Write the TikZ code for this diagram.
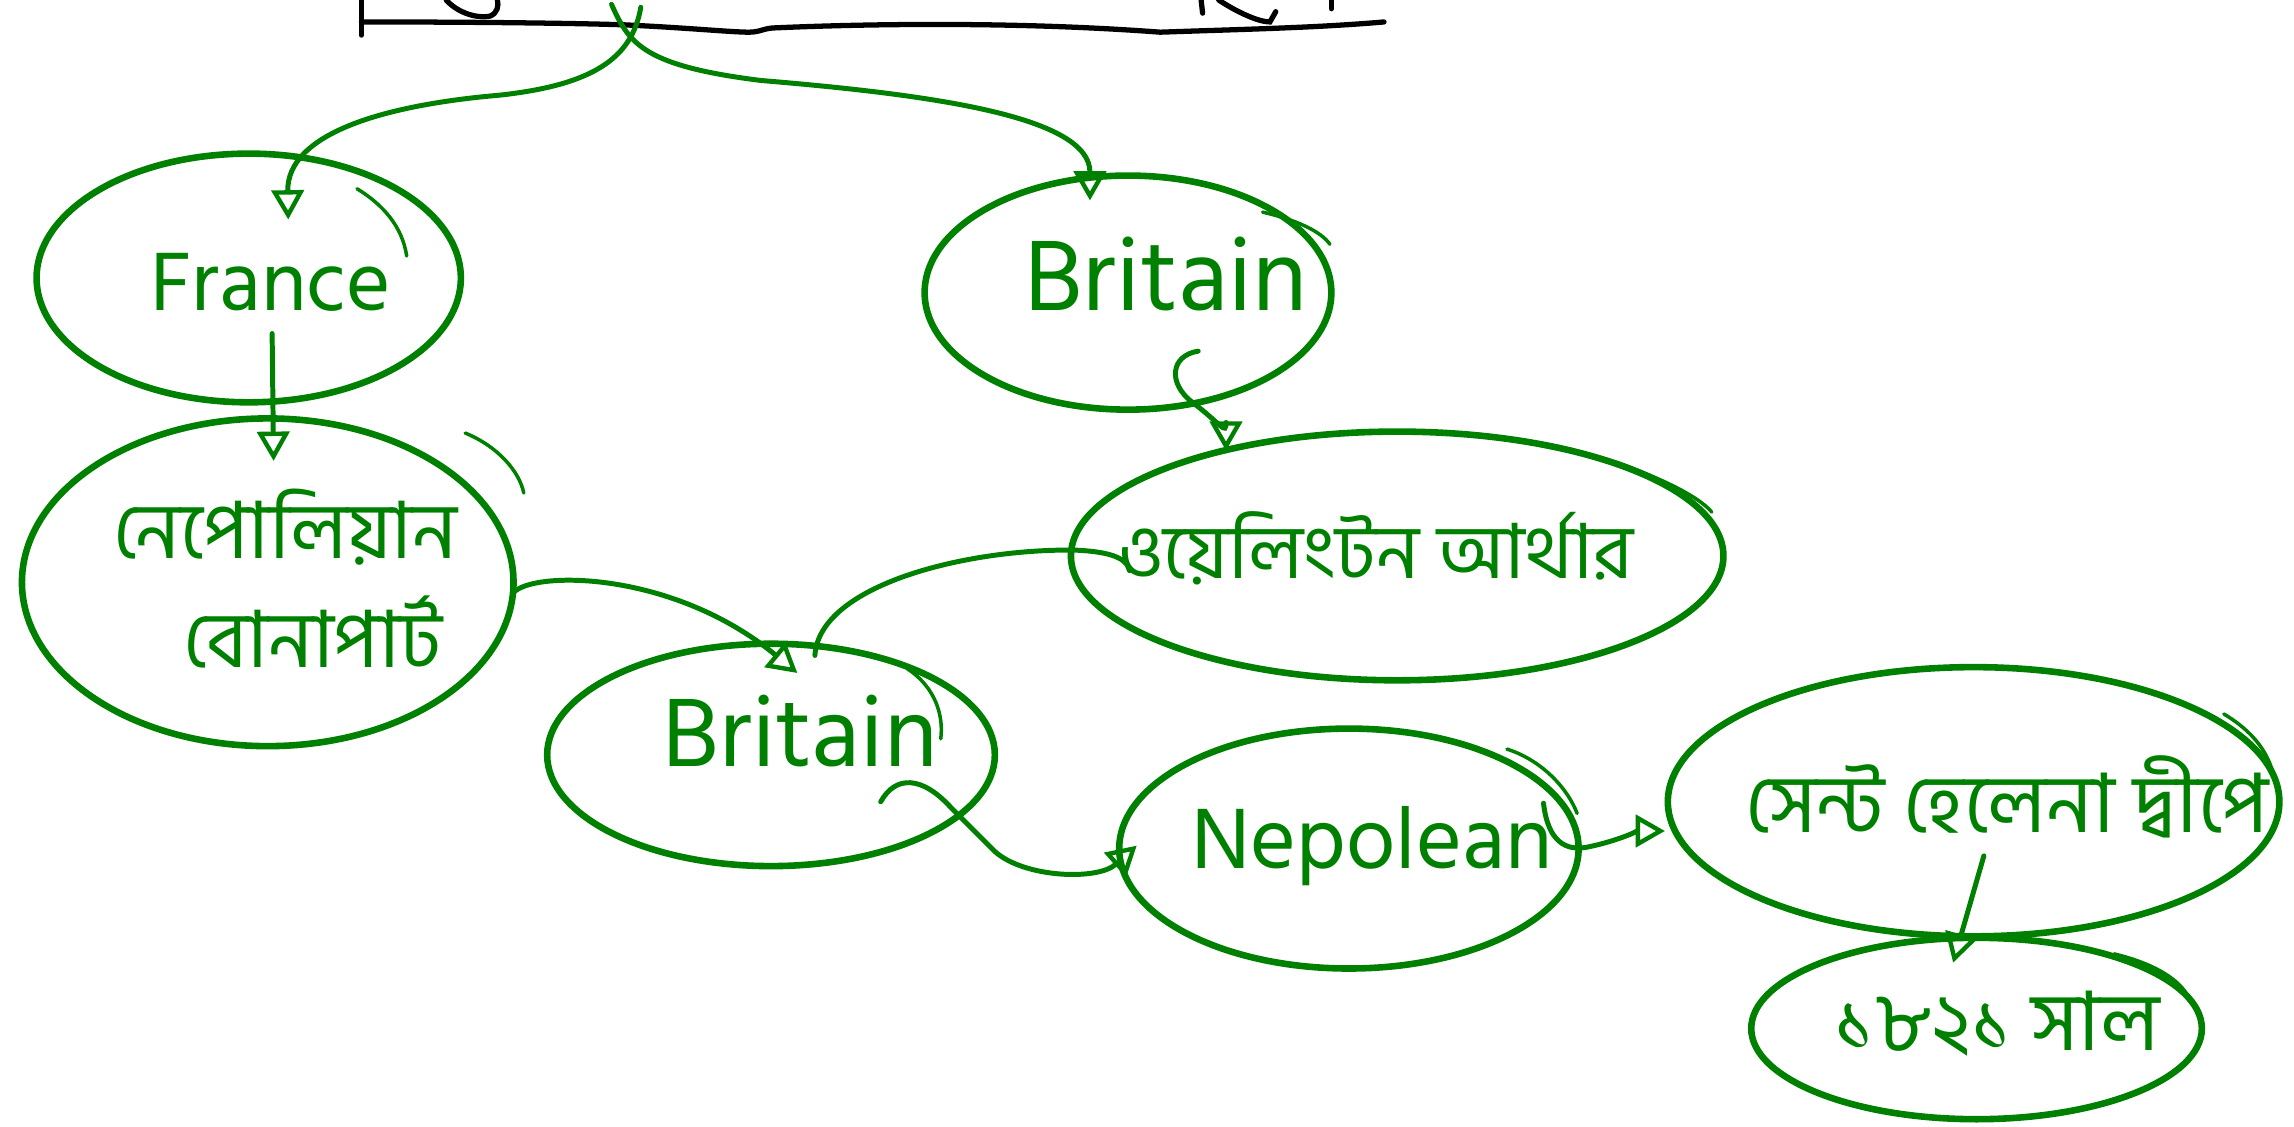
\documentclass[tikz,border=0pt]{standalone}
\usepackage{fontspec}
\setmainfont{Hind Siliguri}[Script=Bengali]
\usetikzlibrary{shapes.geometric,arrows.meta,calc}
\definecolor{pen}{RGB}{0,128,0}
\begin{document}
\begin{tikzpicture}[x=1pt,y=-1pt,
  ell/.style={draw=pen,line width=4.5pt,ellipse,inner sep=0pt,outer sep=0pt},
  lbl/.style={text=pen,inner sep=0pt,font=\fontsize{60}{68}\selectfont},
  bnl/.style={text=pen,inner sep=0pt,font=\fontsize{54}{62}\selectfont},
  conn/.style={draw=pen,line width=3.4pt,line cap=round},
  arr/.style={conn,-{Triangle[open,length=20pt,width=22pt,line width=3pt]}},
  tail/.style={draw=pen,line width=2.4pt,line cap=round},
  ink/.style={draw=black,line width=3.6pt,line cap=round}]
\useasboundingbox (0,0) rectangle (1568,770);

% top black line with clipped writing
\draw[ink] (247,0) -- (247,24);
\draw[ink] (247,15) .. controls (330,15) and (400,16) .. (427,17)
  .. controls (470,19) and (500,22) .. (512,22)
  .. controls (520,22) and (522,19) .. (531,19)
  .. controls (600,16) and (700,15) .. (793,22)
  .. controls (850,20) and (900,19) .. (946,15);
\draw[ink] (305,0) .. controls (312,8) and (325,13) .. (335,11) .. controls (340,9) and (341,4) .. (340,0);
\draw[ink] (821,0) -- (822,9);
\draw[ink] (833,0) .. controls (845,8) and (860,15) .. (868,15) -- (872,8);
\draw[ink] (910,0) -- (910,6);

% ellipses
\node[ell,minimum width=290pt,minimum height=170pt] (franceE) at (170,190) {};
\node[ell,minimum width=278pt,minimum height=160pt] (britE) at (771,200) {};
\node[ell,minimum width=336pt,minimum height=224pt] (napE) at (183,398) {};
\node[ell,minimum width=306pt,minimum height=152pt] (midE) at (527,516) {};
\node[ell,minimum width=446pt,minimum height=170pt] (welE) at (955,380) {};
\node[ell,minimum width=314pt,minimum height=164pt] (nepE) at (922,580) {};
\node[ell,minimum width=418pt,minimum height=184pt] (stE) at (1349,548) {};
\node[ell,minimum width=308pt,minimum height=124pt] (yrE) at (1351,703) {};

% closing overshoots of the hand-drawn ellipses
\draw[tail] (244,129) .. controls (262,140) and (275,155) .. (278,175);
\draw[tail] (863,145) .. controls (885,150) and (903,158) .. (909,167);
\draw[tail] (318,296) .. controls (340,305) and (355,322) .. (358,337);
\draw[tail] (620,457) .. controls (640,470) and (645,490) .. (643,505);
\draw[tail] (1105,316) .. controls (1130,325) and (1160,338) .. (1170,350);
\draw[tail] (1030,512) .. controls (1055,520) and (1072,540) .. (1078,556);
\draw[tail] (1520,488) .. controls (1540,500) and (1552,515) .. (1555,535);
\draw[tail] (1445,652) .. controls (1470,658) and (1488,668) .. (1495,680);

% labels
\node[lbl,font=\fontsize{58}{66}\selectfont] (franceT) at (185,193) {France};
\node[lbl,font=\fontsize{70}{78}\selectfont] (britT) at (797,187) {Britain};
\node[bnl] (napT1) at (195,360) {নেপোলিয়ান};
\node[bnl] (napT2) at (214,432) {বোনাপার্ট};
\node[lbl,font=\fontsize{68}{76}\selectfont] (midT) at (547,500) {Britain};
\node[bnl,font=\fontsize{52}{60}\selectfont] (welT) at (940,375) {ওয়েলিংটন আর্থার};
\node[lbl] (nepT) at (938,578) {Nepolean};
\node[bnl,font=\fontsize{56}{64}\selectfont] (stT) at (1372,545) {সেন্ট হেলেনা দ্বীপে};
\node[bnl,font=\fontsize{56}{64}\selectfont] (yrT) at (1365,700) {১৮২১ সাল};

% connectors
\coordinate (topA) at (438,5);
\coordinate (topB) at (418,3);
\draw[arr] (topA) .. controls (432,40) and (405,58) .. (342,65)
  .. controls (260,72) and (196,92) .. ($(franceE.center)+(27,-40)$);
\draw[arr] (topB) .. controls (430,30) and (440,45) .. (520,55)
  .. controls (640,65) and (745,80) .. ($(britE.center)+(-26,-63)$);
\draw[arr] ($(franceE.center)+(16,38)$) -- ($(napE.center)+(4,-83)$);
\draw[arr] ($(napE.center)+(168,7)$) .. controls (365,390) and (460,390) .. ($(midE.center)+(18,-56)$);
\draw[conn] ($(midE.center)+(30,-68)$) .. controls (560,400) and (660,375) .. (735,376)
  .. controls (755,377) and (770,380) .. ($(welE.center)+(-183,10)$);
\draw[arr] ($(britE.center)+(48,40)$) .. controls (800,243) and (798,262) .. (815,275)
  .. controls (835,290) and (838,298) .. ($(welE.center)+(-117,-72)$);
\draw[arr] ($(midE.center)+(75,32)$) .. controls (612,530) and (630,530) .. (650,552) -- (680,582)
  .. controls (700,600) and (750,602) .. ($(nepE.center)+(-145,-2)$);
\draw[arr] ($(nepE.center)+(133,-31)$) .. controls (1058,575) and (1070,582) .. (1085,579)
  .. controls (1105,575) and (1120,568) .. ($(stE.center)+(-211,20)$);
\draw[arr] ($(stE.center)+(7,37)$) -- ($(yrE.center)+(-16,-45)$);
\end{tikzpicture}
\end{document}
